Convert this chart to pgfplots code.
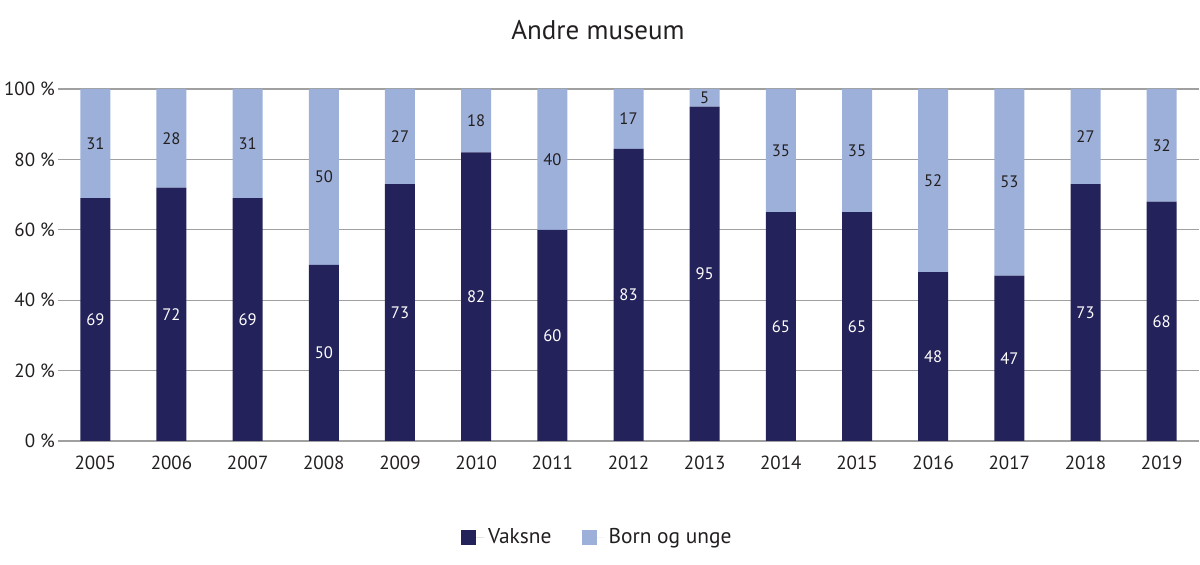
\documentclass[border=0pt]{standalone}
\usepackage{pgfplots}
\pgfplotsset{compat=1.18}
\usepackage{pgfplotstable}
\usepackage{fontspec}
\setmainfont{PT Sans}
\definecolor{dark}{HTML}{24225A}
\definecolor{light}{HTML}{9DB0DA}
\definecolor{txt}{HTML}{231F20}
\definecolor{gridc}{HTML}{A0A0A0}
\pgfplotstableread{
x year v b
0 2005 69 31
1 2006 72 28
2 2007 69 31
3 2008 50 50
4 2009 73 27
5 2010 82 18
6 2011 60 40
7 2012 83 17
8 2013 95 5
9 2014 65 35
10 2015 65 35
11 2016 48 52
12 2017 47 53
13 2018 73 27
14 2019 68 32
}\data
\pgfplotstablecreatecol[create col/expr={\thisrow{v}/2}]{vm}\data
\pgfplotstablecreatecol[create col/expr={\thisrow{v}+\thisrow{b}/2}]{bm}\data
\pgfplotsset{
  common/.style={
    at={(29pt,62pt)}, anchor=south west,
    scale only axis, width=570.5pt, height=176pt,
    xmin=-0.49, xmax=14.49, ymin=0, ymax=100,
  }
}
\begin{document}
\begin{tikzpicture}
\path[use as bounding box] (0,0) rectangle (600pt,282.5pt);
\node[font=\fontsize{13.5}{16}\selectfont, text=txt] at (299pt,267.5pt) {Andre museum};
\begin{axis}[
  common,
  ybar stacked, bar width=15pt,
  xtick=data, xticklabels={2005,2006,2007,2008,2009,2010,2011,2012,2013,2014,2015,2016,2017,2018,2019},
  ytick={0,20,40,60,80,100},
  yticklabel={\pgfmathprintnumber[assume math mode=true]{\tick} \%},
  ticklabel style={font=\fontsize{9.5}{11}\selectfont, text=txt},
  major tick length=0pt,
  axis x line*=bottom, axis y line*=left,
  x axis line style={gridc, line width=0.6pt, -},
  y axis line style={draw=none},
  ymajorgrids, grid style={gridc, line width=0.6pt},
  yticklabel style={xshift=2pt},
  xticklabel style={yshift=-4pt},
  legend style={at={(0.4735,-0.275)}, anchor=center, draw=none, legend columns=2,
    font=\fontsize{10.7}{12}\selectfont, text=txt,
    /tikz/every even column/.append style={column sep=13pt}},
  legend image code/.code={\fill[#1] (0pt,-3.75pt) rectangle (7.5pt,3.75pt); \path (0pt,0pt) -- (11.5pt,0pt);},
]
\addplot[fill=dark, draw=none] table[x=x, y=v] {\data};
\addplot[fill=light, draw=none] table[x=x, y=b] {\data};
\legend{Vaksne, Born og unge}
\end{axis}
\begin{axis}[
  common, axis lines=none, ticks=none,
  point meta=explicit,
  nodes near coords={\pgfmathprintnumber[assume math mode=true]{\pgfplotspointmeta}},
  every node near coord/.append style={anchor=center, font=\fontsize{8.3}{10}\selectfont},
]
\addplot[draw=none, mark=none, nodes near coords style={text=white}] table[x=x, y=vm, meta=v] {\data};
\addplot[draw=none, mark=none, nodes near coords style={text=txt}] table[x=x, y=bm, meta=b] {\data};
\end{axis}
\end{tikzpicture}
\end{document}
